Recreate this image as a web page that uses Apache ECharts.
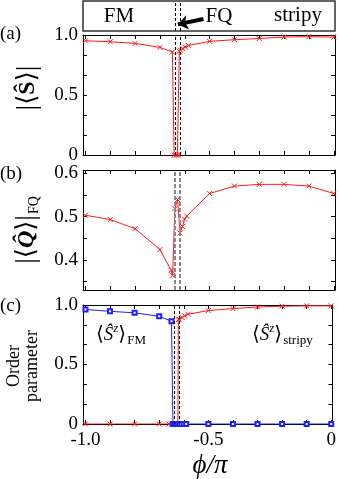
<!DOCTYPE html>
<html lang="en">
<head>
<meta charset="utf-8">
<title>Order parameters vs phi</title>
<script src="https://cdn.jsdelivr.net/npm/echarts@6/dist/echarts.min.js"></script>
<style>
    html, body, #main {
        width: 100%;
        height: 100%;
        margin: 0;
        padding: 0;
        overflow: hidden;
        background: #ffffff;
    }
</style>
</head>
<body>
<div id="main"></div>
<script>
    // x axis (phi / pi)
    var xTicks = [-1.0, -0.9, -0.8, -0.7, -0.6, -0.5, -0.4, -0.3, -0.2, -0.1, 0];
    var xLabels = [-1.0, -0.5, 0];
    var phaseBounds = [-0.644, -0.623];

    // (a) |<S>|
    var phiA = [-1.0, -0.9, -0.8, -0.7, -0.65, -0.643, -0.636, -0.63, -0.624, -0.622, -0.617, -0.608, -0.598, -0.585, -0.5, -0.4, -0.3, -0.2, -0.1, 0];
    var spinA = [0.952, 0.944, 0.930, 0.897, 0.858, 0, 0, 0, 0, 0.865, 0.873, 0.887, 0.900, 0.913, 0.947, 0.961, 0.971, 0.983, 0.986, 0.982];
    var ticksA = [0, 0.1667, 0.3333, 0.5, 0.6667, 0.8333, 1.0];
    var labelsA = [0, 0.5, 1.0];

    // (b) |<Q>|_FQ
    var phiB = [-1.0, -0.9, -0.8, -0.7, -0.655, -0.649, -0.64, -0.629, -0.619, -0.609, -0.601, -0.592, -0.5, -0.4, -0.3, -0.2, -0.1, 0];
    var quadB = [0.503, 0.493, 0.472, 0.424, 0.376, 0.364, 0.518, 0.539, 0.462, 0.477, 0.494, 0.501, 0.553, 0.570, 0.574, 0.574, 0.570, 0.553];
    var ticksB = [0.35, 0.4, 0.45, 0.5, 0.55, 0.6];
    var labelsB = [0.4, 0.5, 0.6];

    // (c) order parameters
    var phiFM = [-1.0, -0.9, -0.8, -0.7, -0.65, -0.644, -0.636, -0.63, -0.624, -0.618, -0.61, -0.6, -0.59, -0.5, -0.4, -0.3, -0.2, -0.1, 0];
    var szFM = [0.962, 0.947, 0.934, 0.905, 0.863, 0, 0, 0, 0, 0, 0, 0, 0, 0, 0, 0, 0, 0, 0];
    var phiStripy = [-1.0, -0.9, -0.8, -0.7, -0.66, -0.65, -0.644, -0.636, -0.63, -0.624, -0.622, -0.618, -0.607, -0.596, -0.583, -0.5, -0.4, -0.3, -0.2, -0.1, 0];
    var szStripy = [0, 0, 0, 0, 0, 0, 0, 0, 0, 0, 0.877, 0.88, 0.895, 0.91, 0.922, 0.953, 0.970, 0.983, 0.990, 0.993, 0.993];

    var SERIF = "'Liberation Serif', 'DejaVu Serif', serif";
    var RED = '#ff1a1a';
    var BLUE = '#2020ff';
    var CROSS = 'path://M0,0L10,10M10,0L0,10';

    function zip(xs, ys) {
        return xs.map(function (x, i) { return [x, ys[i]]; });
    }

    function fmt(v) {
        return v === 0 ? '0' : v.toFixed(1);
    }

    var X_MIN = -1.01, X_MAX = 0.005;

    function xAxes(gridIndex, withLabels) {
        var common = {
            gridIndex: gridIndex, type: 'value', min: X_MIN, max: X_MAX,
            splitLine: {show: false},
            axisLine: {show: true, onZero: false, lineStyle: {color: '#000', width: 1}},
            axisTick: {show: true, inside: true, length: 4, customValues: xTicks, lineStyle: {color: '#000'}}
        };
        var bottom = Object.assign({}, common, {
            position: 'bottom',
            axisLabel: withLabels ? {
                show: true, customValues: xLabels, formatter: fmt, margin: 7,
                fontFamily: SERIF, fontSize: 19, color: '#000'
            } : {show: false}
        });
        var top = Object.assign({}, common, {position: 'top', axisLabel: {show: false}});
        return [bottom, top];
    }

    function yAxes(gridIndex, min, max, ticks, labels) {
        var common = {
            gridIndex: gridIndex, type: 'value', min: min, max: max,
            splitLine: {show: false},
            axisLine: {show: true, onZero: false, lineStyle: {color: '#000', width: 1}},
            axisTick: {show: true, inside: true, length: 4, customValues: ticks, lineStyle: {color: '#000'}}
        };
        var left = Object.assign({}, common, {
            position: 'left',
            axisLabel: {
                show: true, customValues: labels, formatter: fmt, margin: 5,
                fontFamily: SERIF, fontSize: 19, color: '#000'
            }
        });
        var right = Object.assign({}, common, {position: 'right', axisLabel: {show: false}});
        return [left, right];
    }

    function boundaryLine(color, width, dash) {
        return {
            silent: true, symbol: ['none', 'none'], label: {show: false},
            lineStyle: {color: color, width: width, type: dash},
            data: phaseBounds.map(function (v) { return {xAxis: v}; })
        };
    }

    var grids = [
        {left: 83, width: 252, top: 1, height: 30, show: true, borderColor: '#333', borderWidth: 1.5},
        {left: 83, width: 252, top: 35, height: 120},
        {left: 83, width: 252, top: 170, height: 120},
        {left: 83, width: 252, top: 305, height: 119}
    ];

    var xAxisList = [{gridIndex: 0, type: 'value', min: X_MIN, max: X_MAX, show: false}]
        .concat(xAxes(1, false), xAxes(2, false), xAxes(3, true));
    var yAxisList = [{gridIndex: 0, type: 'value', min: 0, max: 1, show: false}]
        .concat(yAxes(1, 0, 1, ticksA, labelsA),
            yAxes(2, 0.331, 0.607, ticksB, labelsB),
            yAxes(3, 0, 1, ticksA, labelsA));

    var lineCommon = {type: 'line', symbolSize: 5, showAllSymbol: true, animation: false};

    var option = {
        animation: false,
        grid: grids,
        xAxis: xAxisList,
        yAxis: yAxisList,
        series: [
            {
                type: 'line', xAxisIndex: 0, yAxisIndex: 0, data: [],
                markLine: boundaryLine('#000', 1, [3, 2])
            },
            {
                type: 'line', xAxisIndex: 0, yAxisIndex: 0, data: [],
                markLine: {
                    silent: true, symbol: ['none', 'arrow'], symbolSize: [11, 10], label: {show: false},
                    lineStyle: {color: '#000', width: 4, type: 'solid'},
                    data: [[{coord: [-0.525, 0.4]}, {coord: [-0.628, 0.22]}]]
                }
            },
            Object.assign({}, lineCommon, {
                xAxisIndex: 1, yAxisIndex: 1, data: zip(phiA, spinA),
                symbol: CROSS, lineStyle: {color: RED, width: 1},
                itemStyle: {color: RED, borderColor: RED, borderWidth: 1},
                markLine: boundaryLine('#000', 1, [3, 2])
            }),
            Object.assign({}, lineCommon, {
                xAxisIndex: 3, yAxisIndex: 3, data: zip(phiB, quadB),
                symbol: CROSS, lineStyle: {color: RED, width: 1},
                itemStyle: {color: RED, borderColor: RED, borderWidth: 1},
                markLine: boundaryLine('#888', 2, [4, 2])
            }),
            Object.assign({}, lineCommon, {
                xAxisIndex: 5, yAxisIndex: 5, data: zip(phiStripy, szStripy),
                symbol: CROSS, lineStyle: {color: RED, width: 1},
                itemStyle: {color: RED, borderColor: RED, borderWidth: 1},
                markLine: boundaryLine('#000', 1, [3, 2])
            }),
            Object.assign({}, lineCommon, {
                xAxisIndex: 5, yAxisIndex: 5, data: zip(phiFM, szFM),
                symbol: 'emptyRect', symbolSize: 4, lineStyle: {color: BLUE, width: 1},
                itemStyle: {color: BLUE, borderColor: BLUE, borderWidth: 1}
            })
        ],
        graphic: [
            {type: 'text', x: 0, y: 34, style: {text: '(a)', font: '19px ' + SERIF, fill: '#000', verticalAlign: 'middle'}},
            {type: 'text', x: 0, y: 174, style: {text: '(b)', font: '19px ' + SERIF, fill: '#000', verticalAlign: 'middle'}},
            {type: 'text', x: 0, y: 306, style: {text: '(c)', font: '19px ' + SERIF, fill: '#000', verticalAlign: 'middle'}},

            {type: 'text', x: 119, y: 16, style: {text: 'FM', font: '21px ' + SERIF, fill: '#000', align: 'center', verticalAlign: 'middle'}},
            {type: 'text', x: 219, y: 16, style: {text: 'FQ', font: '21px ' + SERIF, fill: '#000', align: 'center', verticalAlign: 'middle'}},
            {type: 'text', x: 298, y: 15, style: {text: 'stripy', font: '21px ' + SERIF, fill: '#000', align: 'center', verticalAlign: 'middle'}},

            {
                type: 'text', x: 28, y: 88, rotation: Math.PI / 2,
                style: {
                    text: '{bar||}{t|⟨}{s|Ŝ}{t|⟩}{bar||}', align: 'center', verticalAlign: 'middle',
                    rich: {
                        bar: {fontFamily: SERIF, fontSize: 28, color: '#888'},
                        t: {fontFamily: SERIF, fontSize: 26, color: '#000'},
                        s: {fontFamily: SERIF, fontSize: 24, fontWeight: 'bold', color: '#000'}
                    }
                }
            },
            {
                type: 'text', x: 27, y: 230, rotation: Math.PI / 2,
                style: {
                    text: '{bar||}{t|⟨}{q|Q\u0302}{t|⟩}{bar||}{sub|FQ}', align: 'center', verticalAlign: 'middle',
                    rich: {
                        bar: {fontFamily: SERIF, fontSize: 28, color: '#888'},
                        t: {fontFamily: SERIF, fontSize: 26, color: '#000'},
                        q: {fontFamily: SERIF, fontSize: 24, fontWeight: 'bold', fontStyle: 'italic', color: '#000'},
                        sub: {fontFamily: SERIF, fontSize: 14, color: '#000', verticalAlign: 'bottom', padding: [12, 0, 0, 1]}
                    }
                }
            },
            {
                type: 'text', x: 23, y: 366, rotation: Math.PI / 2,
                style: {
                    text: 'Order\nparameter', font: '18px ' + SERIF, fill: '#000',
                    align: 'center', verticalAlign: 'middle', lineHeight: 18
                }
            },
            {
                type: 'text', x: 210, y: 466,
                style: {text: 'ϕ/π', font: 'italic 27px ' + SERIF, fill: '#000', align: 'center', verticalAlign: 'middle'}
            },
            {
                type: 'text', x: 96, y: 335,
                style: {
                    text: '{t|⟨}{s|Ŝ}{sup|z}{t|⟩}{sub|FM}', verticalAlign: 'middle',
                    rich: {
                        t: {fontFamily: SERIF, fontSize: 20, color: '#000'},
                        s: {fontFamily: SERIF, fontSize: 19, fontStyle: 'italic', color: '#000'},
                        sup: {fontFamily: SERIF, fontSize: 13, fontStyle: 'italic', color: '#000', verticalAlign: 'top'},
                        sub: {fontFamily: SERIF, fontSize: 13, color: '#000', verticalAlign: 'bottom', padding: [12, 0, 0, 1]}
                    }
                }
            },
            {
                type: 'text', x: 252, y: 335,
                style: {
                    text: '{t|⟨}{s|Ŝ}{sup|z}{t|⟩}{sub|stripy}', verticalAlign: 'middle',
                    rich: {
                        t: {fontFamily: SERIF, fontSize: 20, color: '#000'},
                        s: {fontFamily: SERIF, fontSize: 19, fontStyle: 'italic', color: '#000'},
                        sup: {fontFamily: SERIF, fontSize: 13, fontStyle: 'italic', color: '#000', verticalAlign: 'top'},
                        sub: {fontFamily: SERIF, fontSize: 13, color: '#000', verticalAlign: 'bottom', padding: [12, 0, 0, 1]}
                    }
                }
            }
        ]
    };

    var myChart = echarts.init(document.getElementById('main'));
    myChart.setOption(option);
</script>
</body>
</html>
